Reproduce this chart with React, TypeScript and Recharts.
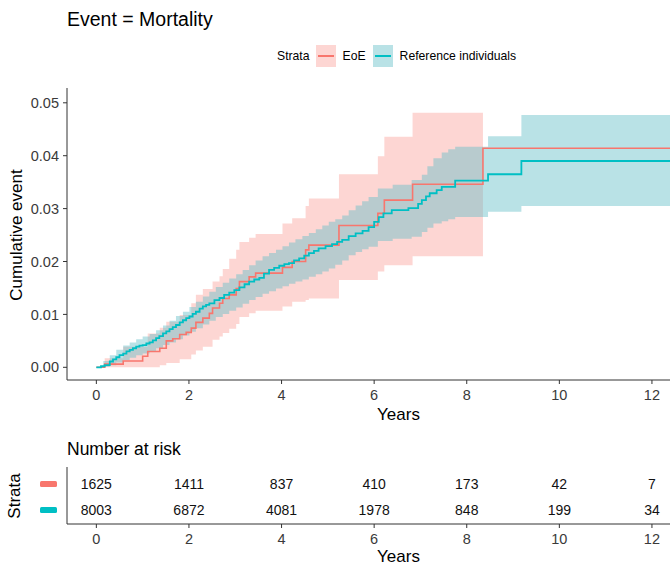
import React from 'react';
import { ComposedChart, Line, Area, Scatter, XAxis, YAxis } from 'recharts';

const strata = ['EoE', 'Reference individuals'];
const red = '#F8766D';
const teal = '#00BFC4';

// cumulative event, [years, value]
const eoeCurve: [number, number][] = [
  [0, 0], [0.18, 0.0006], [0.58, 0.0012], [1.0, 0.0021], [1.11, 0.003], [1.37, 0.0036],
  [1.51, 0.005], [1.65, 0.0054], [1.8, 0.0062], [1.94, 0.0066], [2.05, 0.0074], [2.15, 0.0085],
  [2.3, 0.0093], [2.44, 0.0102], [2.51, 0.0112], [2.66, 0.0121], [2.73, 0.013], [2.87, 0.0137],
  [3.02, 0.0149], [3.09, 0.0162], [3.3, 0.0171], [3.44, 0.0178], [4.02, 0.0189], [4.23, 0.02],
  [4.52, 0.0222], [4.59, 0.0231], [5.24, 0.0268], [6.08, 0.0291], [6.22, 0.0316], [6.83, 0.0346],
  [8.35, 0.0414], [12.7, 0.0414],
];
const refCurve: [number, number][] = [
  [0, 0], [0.1, 0.0002], [0.18, 0.0004], [0.29, 0.0011], [0.36, 0.0015], [0.43, 0.0019],
  [0.5, 0.0023], [0.58, 0.0026], [0.65, 0.003], [0.72, 0.0033], [0.79, 0.0036], [0.86, 0.0039],
  [0.93, 0.0041], [1.0, 0.0042], [1.08, 0.0045], [1.15, 0.0047], [1.22, 0.0051], [1.29, 0.0055],
  [1.36, 0.0059], [1.44, 0.0064], [1.51, 0.0068], [1.58, 0.0072], [1.65, 0.0076], [1.72, 0.008],
  [1.8, 0.0085], [1.87, 0.0089], [1.94, 0.0093], [2.01, 0.0096], [2.08, 0.0101], [2.15, 0.0105],
  [2.23, 0.0111], [2.3, 0.0115], [2.37, 0.0118], [2.44, 0.0121], [2.55, 0.0127], [2.66, 0.0131],
  [2.76, 0.0137], [2.87, 0.0141], [2.98, 0.0146], [3.09, 0.0151], [3.2, 0.0157], [3.3, 0.0162],
  [3.41, 0.0166], [3.52, 0.0169], [3.62, 0.0177], [3.73, 0.0184], [3.84, 0.0188], [3.95, 0.0192],
  [4.06, 0.0195], [4.16, 0.0197], [4.27, 0.0202], [4.38, 0.0206], [4.49, 0.0211], [4.59, 0.0216],
  [4.7, 0.022], [4.8, 0.0225], [4.95, 0.0229], [5.09, 0.0233], [5.2, 0.0237], [5.31, 0.0241],
  [5.45, 0.0248], [5.6, 0.0253], [5.75, 0.0258], [5.88, 0.0265], [6.0, 0.0275], [6.1, 0.0284],
  [6.2, 0.0291], [6.38, 0.0297], [6.74, 0.0301], [6.95, 0.0309], [7.03, 0.0316], [7.12, 0.0323],
  [7.2, 0.0329], [7.35, 0.0335], [7.46, 0.0341], [7.75, 0.0353], [8.46, 0.0365], [9.18, 0.039],
  [12.7, 0.039],
];

// confidence bands, [years, lower, upper]
const eoeBand: [number, number, number][] = [
  [0, 0, 0], [0.18, 0, 0.0017], [0.58, 0, 0.0039], [1.11, 0, 0.0064], [1.37, 0.0004, 0.0075],
  [1.51, 0.0008, 0.0086], [1.8, 0.0015, 0.0099], [2.05, 0.0024, 0.0121], [2.15, 0.0032, 0.0137],
  [2.3, 0.0039, 0.0148], [2.51, 0.0052, 0.0162], [2.66, 0.0058, 0.0172], [2.73, 0.0065, 0.0186],
  [2.87, 0.0073, 0.0205], [3.02, 0.0082, 0.0222], [3.09, 0.0095, 0.0237], [3.3, 0.0102, 0.0245],
  [3.44, 0.0107, 0.0252], [4.02, 0.0115, 0.0272], [4.23, 0.0124, 0.0282], [4.52, 0.0127, 0.0305],
  [4.59, 0.013, 0.0319], [5.24, 0.0165, 0.0365], [6.08, 0.0181, 0.0399], [6.22, 0.0193, 0.0436],
  [6.83, 0.021, 0.0481], [8.35, 0.021, 0.0481],
];
const refBand: [number, number, number][] = [
  [0, 0, 0], [0.15, 0.0001, 0.0012], [0.29, 0.0004, 0.0023], [0.43, 0.0009, 0.0033],
  [0.58, 0.0014, 0.0041], [0.72, 0.0018, 0.0047], [0.86, 0.0023, 0.0053], [1.0, 0.0026, 0.0058],
  [1.15, 0.003, 0.0063], [1.29, 0.0036, 0.007], [1.44, 0.0042, 0.0079], [1.58, 0.0047, 0.0088],
  [1.72, 0.0053, 0.0097], [1.87, 0.006, 0.0105], [2.01, 0.0067, 0.0114], [2.15, 0.0074, 0.0124],
  [2.3, 0.0081, 0.0134], [2.44, 0.0088, 0.0143], [2.58, 0.0095, 0.0152], [2.73, 0.0101, 0.016],
  [2.87, 0.0107, 0.0168], [3.02, 0.0113, 0.0176], [3.16, 0.012, 0.0184], [3.3, 0.0127, 0.0193],
  [3.44, 0.0133, 0.0202], [3.59, 0.0139, 0.021], [3.73, 0.0144, 0.0216], [3.88, 0.0149, 0.0222],
  [4.02, 0.0153, 0.0229], [4.16, 0.0158, 0.0236], [4.3, 0.0162, 0.0242], [4.45, 0.0166, 0.0248],
  [4.59, 0.0171, 0.0254], [4.74, 0.0176, 0.0261], [4.88, 0.0181, 0.0268], [5.02, 0.0187, 0.0275],
  [5.16, 0.0194, 0.028], [5.31, 0.0202, 0.0287], [5.45, 0.0212, 0.0297], [5.6, 0.0218, 0.0306],
  [5.74, 0.0223, 0.0314], [5.88, 0.0228, 0.0322], [6.08, 0.0239, 0.0338], [6.4, 0.0243, 0.0345],
  [6.81, 0.0247, 0.0354], [7.03, 0.0256, 0.0364], [7.15, 0.0264, 0.038], [7.28, 0.0272, 0.0395],
  [7.46, 0.0276, 0.0406], [7.6, 0.028, 0.0412], [7.75, 0.0284, 0.0417], [8.46, 0.0294, 0.0437],
  [9.18, 0.0305, 0.0477], [12.7, 0.0305, 0.0477],
];

const riskTimes = [0, 2, 4, 6, 8, 10, 12];
const eoeAtRisk = [1625, 1411, 837, 410, 173, 42, 7];
const refAtRisk = [8003, 6872, 4081, 1978, 848, 199, 34];

const xTicks = [0, 2, 4, 6, 8, 10, 12];
const yTicks = [0, 0.01, 0.02, 0.03, 0.04, 0.05];

const xDomain = [-0.634, 12.39];
const font = '"Liberation Sans", Arial, sans-serif';

const curve = (pts: [number, number][]) => pts.map(([t, v]) => ({ t, v }));
const band = (pts: [number, number, number][]) => pts.map(([t, lo, hi]) => ({ t, range: [lo, hi] }));

const RiskText = (props: any) => (
  <text x={props.cx} y={props.cy} textAnchor="middle" dominantBaseline="central"
    fontSize={14} fill="#111" fontFamily={font}>{props.payload.n}</text>
);

const StrataTick = (props: any) => {
  const c = props.payload.value === 2 ? red : teal;
  return <rect x={40} y={props.y - 3} width={17} height={6} rx={1.5} fill={c} />;
};

export default function App() {
  const axisStroke = '#333';
  const tickStyle = { fill: '#3a3a3a', fontSize: 14.5, fontFamily: font };
  const eoeRisk = riskTimes.map((t, i) => ({ t, row: 2, n: eoeAtRisk[i] }));
  const refRisk = riskTimes.map((t, i) => ({ t, row: 1, n: refAtRisk[i] }));

  return (
    <div style={{ position: 'absolute', left: 0, top: 0, width: 670, height: 566, background: '#fff', fontFamily: font, overflow: 'hidden' }}>
      <div style={{ position: 'absolute', left: 67, top: 8, fontSize: 19.5, color: '#000' }}>Event = Mortality</div>

      {/* legend */}
      <div style={{ position: 'absolute', left: 277, top: 45, height: 22, display: 'flex', alignItems: 'center', fontSize: 12.2, color: '#000' }}>
        <span style={{ marginRight: 6 }}>Strata</span>
        <span style={{ width: 20, height: 22, background: 'rgba(248,118,109,0.3)', position: 'relative', marginRight: 7 }}>
          <span style={{ position: 'absolute', left: 2, right: 2, top: 10, height: 2, background: red }} />
        </span>
        <span style={{ marginRight: 7 }}>{strata[0]}</span>
        <span style={{ width: 20, height: 22, background: 'rgba(100,190,200,0.45)', position: 'relative', marginRight: 7 }}>
          <span style={{ position: 'absolute', left: 2, right: 2, top: 10, height: 2, background: teal }} />
        </span>
        <span>{strata[1]}</span>
      </div>

      <div style={{ position: 'absolute', left: 17, top: 235, transform: 'translate(-50%, -50%) rotate(-90deg)', fontSize: 17, whiteSpace: 'nowrap', color: '#000' }}>Cumulative event</div>

      <div style={{ position: 'absolute', left: 0, top: 0 }}>
        <ComposedChart width={670} height={430} margin={{ top: 88, right: 0, left: 27, bottom: 0 }}>
          <XAxis type="number" dataKey="t" domain={xDomain} ticks={xTicks} allowDataOverflow height={50}
            tickSize={4} tickMargin={6} stroke={axisStroke} tick={tickStyle}
            label={{ value: 'Years', position: 'insideBottom', offset: 10, dx: 30, fontSize: 17, fill: '#000', fontFamily: font }} />
          <YAxis type="number" domain={[-0.0024, 0.0528]} ticks={yTicks} allowDataOverflow width={40}
            tickSize={4} tickMargin={4} stroke={axisStroke} tick={tickStyle} tickFormatter={(v: number) => v.toFixed(2)} />
          <Area data={band(eoeBand)} dataKey="range" type="stepAfter" fill={red} fillOpacity={0.3} stroke="none" isAnimationActive={false} />
          <Line data={curve(eoeCurve)} dataKey="v" type="stepAfter" stroke={red} strokeWidth={1.6} dot={false} isAnimationActive={false} />
          <Area data={band(refBand)} dataKey="range" type="stepAfter" fill="#64BEC8" fillOpacity={0.45} stroke="none" isAnimationActive={false} />
          <Line data={curve(refCurve)} dataKey="v" type="stepAfter" stroke={teal} strokeWidth={1.8} dot={false} isAnimationActive={false} />
        </ComposedChart>
      </div>

      <div style={{ position: 'absolute', left: 67, top: 439, fontSize: 17.5, color: '#000' }}>Number at risk</div>
      <div style={{ position: 'absolute', left: 15, top: 496, transform: 'translate(-50%, -50%) rotate(-90deg)', fontSize: 17, whiteSpace: 'nowrap', color: '#000' }}>Strata</div>

      <div style={{ position: 'absolute', left: 0, top: 430 }}>
        <ComposedChart width={670} height={136} margin={{ top: 37, right: 0, left: 27, bottom: 0 }}>
          <XAxis type="number" dataKey="t" domain={xDomain} ticks={xTicks} allowDataOverflow height={42}
            tickSize={4} tickMargin={6} stroke={axisStroke} tick={tickStyle}
            label={{ value: 'Years', position: 'insideBottom', offset: 4, dx: 30, fontSize: 17, fill: '#000', fontFamily: font }} />
          <YAxis type="number" dataKey="row" domain={[0.46, 2.65]} ticks={[1, 2]} width={40}
            tickLine={false} stroke={axisStroke} tick={<StrataTick />} />
          <Scatter data={eoeRisk} dataKey="row" shape={<RiskText />} isAnimationActive={false} />
          <Scatter data={refRisk} dataKey="row" shape={<RiskText />} isAnimationActive={false} />
        </ComposedChart>
      </div>
    </div>
  );
}
